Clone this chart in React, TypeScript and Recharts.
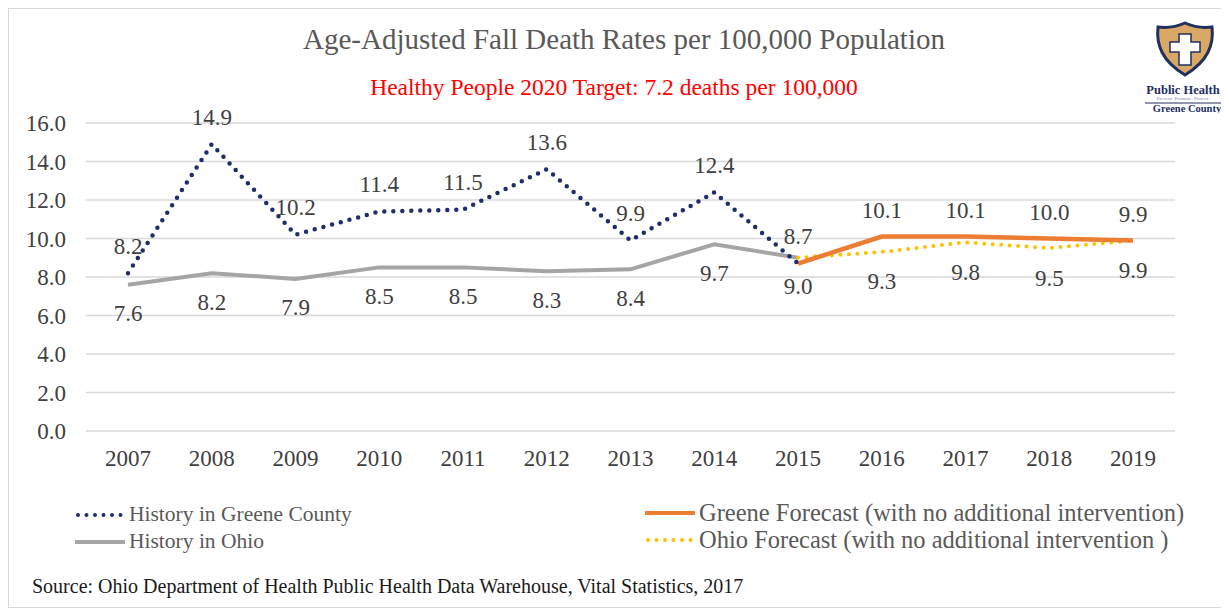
import React from "react";
import { CartesianGrid, LabelList, Line, LineChart, XAxis, YAxis } from "recharts";

const years = ["2007", "2008", "2009", "2010", "2011", "2012", "2013", "2014", "2015", "2016", "2017", "2018", "2019"];
const greeneHistory = [8.2, 14.9, 10.2, 11.4, 11.5, 13.6, 9.9, 12.4, 8.7, null, null, null, null];
const ohioHistory = [7.6, 8.2, 7.9, 8.5, 8.5, 8.3, 8.4, 9.7, 9.0, null, null, null, null];
const greeneForecast = [null, null, null, null, null, null, null, null, 8.7, 10.1, 10.1, 10.0, 9.9];
const ohioForecast = [null, null, null, null, null, null, null, null, 9.0, 9.3, 9.8, 9.5, 9.9];
const yTicks = [0, 2, 4, 6, 8, 10, 12, 14, 16];

const data = years.map((year, i) => ({
  year,
  greene: greeneHistory[i],
  ohio: ohioHistory[i],
  greeneFc: greeneForecast[i],
  ohioFc: ohioForecast[i],
}));

const serif = "'Liberation Serif', 'Times New Roman', serif";
const textColor = "#404040";

// label renderer; skipFirst hides the 2015 label on forecast lines (history already has it)
function makeLabel(dy: number, skipFirst = false) {
  return (props: any) => {
    const { x, y, value, index } = props;
    if (value == null) return null;
    if (skipFirst && index === 8) return null;
    return (
      <text
        x={x}
        y={y + dy}
        textAnchor="middle"
        dominantBaseline="central"
        fontFamily={serif}
        fontSize={23}
        fill={textColor}
      >
        {Number(value).toFixed(1)}
      </text>
    );
  };
}

function LegendItem({
  color,
  dotted,
  label,
  size = 21.5,
}: {
  color: string;
  dotted?: boolean;
  label: string;
  size?: number;
}) {
  return (
    <div style={{ display: "flex", alignItems: "center", height: 27 }}>
      <svg width={52} height={10} style={{ marginRight: 2 }}>
        <line
          x1={dotted ? 3 : 0}
          y1={5}
          x2={50}
          y2={5}
          stroke={color}
          strokeWidth={dotted ? 4 : 4}
          strokeDasharray={dotted ? "0 8.5" : undefined}
          strokeLinecap={dotted ? "round" : "butt"}
        />
      </svg>
      <span style={{ fontFamily: serif, fontSize: size, color: "#595959", whiteSpace: "nowrap" }}>{label}</span>
    </div>
  );
}

function Logo() {
  return (
    <svg width={92} height={100} style={{ position: "absolute", left: 1128, top: 4 }}>
      <path
        d="M48 10 C57 14 67 15 75 14 C77 32 71 48 48 62 C25 48 19 32 21 14 C29 15 39 14 48 10 Z"
        fill="#D9A866"
        stroke="#22305f"
        strokeWidth={3}
      />
      <path
        d="M42 21 h12 v8 h9 v10 h-9 v13 h-12 v-13 h-9 v-10 h9 Z"
        fill="#ffffff"
        stroke="#22305f"
        strokeWidth={1.5}
      />
      <text x={46} y={81} textAnchor="middle" fontFamily={serif} fontWeight="bold" fontSize={12.5} fill="#22305f">
        Public Health
      </text>
      <text x={46} y={87} textAnchor="middle" fontFamily={serif} fontSize={5} fill="#7a86a8">
        Prevent. Promote. Protect.
      </text>
      <line x1={8} y1={90} x2={92} y2={90} stroke="#22305f" strokeWidth={1} />
      <text x={50} y={99} textAnchor="middle" fontFamily={serif} fontWeight="bold" fontSize={10.5} fill="#22305f">
        Greene County
      </text>
    </svg>
  );
}

export default function App() {
  return (
    <div
      style={{
        position: "relative",
        width: 1219,
        height: 598,
        border: "1px solid #d9d9d9",
        background: "#ffffff",
        overflow: "hidden",
      }}
    >
      <div
        style={{
          position: "absolute",
          left: 0,
          width: 1230,
          top: 14,
          textAlign: "center",
          fontFamily: serif,
          fontSize: 29,
          color: "#595959",
        }}
      >
        Age-Adjusted Fall Death Rates per 100,000 Population
      </div>
      <div
        style={{
          position: "absolute",
          left: 0,
          width: 1210,
          top: 65,
          textAlign: "center",
          fontFamily: serif,
          fontSize: 23.5,
          color: "#ff0000",
        }}
      >
        Healthy People 2020 Target: 7.2 deaths per 100,000
      </div>
      <Logo />

      <div style={{ position: "absolute", left: 0, top: 0 }}>
        <LineChart width={1219} height={470} data={data} margin={{ top: 114, right: 53, bottom: 8, left: 0 }}>
          <CartesianGrid vertical={false} stroke="#d9d9d9" strokeWidth={1.5} />
          <XAxis
            dataKey="year"
            axisLine={false}
            tickLine={false}
            tickSize={0}
            tickMargin={19}
            height={40}
            padding={{ left: 42, right: 42 }}
            tick={{ fontFamily: serif, fontSize: 23, fill: textColor }}
          />
          <YAxis
            domain={[0, 16]}
            ticks={yTicks}
            width={77}
            axisLine={false}
            tickLine={false}
            tickSize={0}
            tickMargin={20}
            tickFormatter={(v: number) => v.toFixed(1)}
            tick={{ fontFamily: serif, fontSize: 23, fill: textColor }}
          />
          <Line
            dataKey="ohio"
            stroke="#A5A5A5"
            strokeWidth={4}
            dot={false}
            isAnimationActive={false}
          >
            <LabelList dataKey="ohio" content={makeLabel(29)} />
          </Line>
          <Line
            dataKey="ohioFc"
            stroke="#FFC000"
            strokeWidth={4}
            strokeDasharray="0 8.5"
            strokeLinecap="round"
            dot={false}
            isAnimationActive={false}
          >
            <LabelList dataKey="ohioFc" content={makeLabel(30, true)} />
          </Line>
          <Line
            dataKey="greeneFc"
            stroke="#ED7D31"
            strokeWidth={4.5}
            dot={false}
            isAnimationActive={false}
          >
            <LabelList dataKey="greeneFc" content={makeLabel(-26, true)} />
          </Line>
          <Line
            dataKey="greene"
            stroke="#1F2D6B"
            strokeWidth={4.5}
            strokeDasharray="0 9"
            strokeLinecap="round"
            dot={false}
            isAnimationActive={false}
          >
            <LabelList dataKey="greene" content={makeLabel(-27)} />
          </Line>
        </LineChart>
      </div>

      <div style={{ position: "absolute", left: 66, top: 492 }}>
        <LegendItem color="#1F2D6B" dotted label="History in Greene County" />
        <LegendItem color="#A5A5A5" label="History in Ohio" />
      </div>
      <div style={{ position: "absolute", left: 636, top: 490 }}>
        <LegendItem color="#ED7D31" size={24.5} label="Greene Forecast (with no additional intervention)" />
        <LegendItem color="#FFC000" dotted size={24.5} label="Ohio Forecast (with no additional intervention )" />
      </div>

      <div
        style={{
          position: "absolute",
          left: 23,
          top: 566,
          fontFamily: serif,
          fontSize: 20,
          color: "#1a1a1a",
        }}
      >
        Source: Ohio Department of Health Public Health Data Warehouse, Vital Statistics, 2017
      </div>
    </div>
  );
}
